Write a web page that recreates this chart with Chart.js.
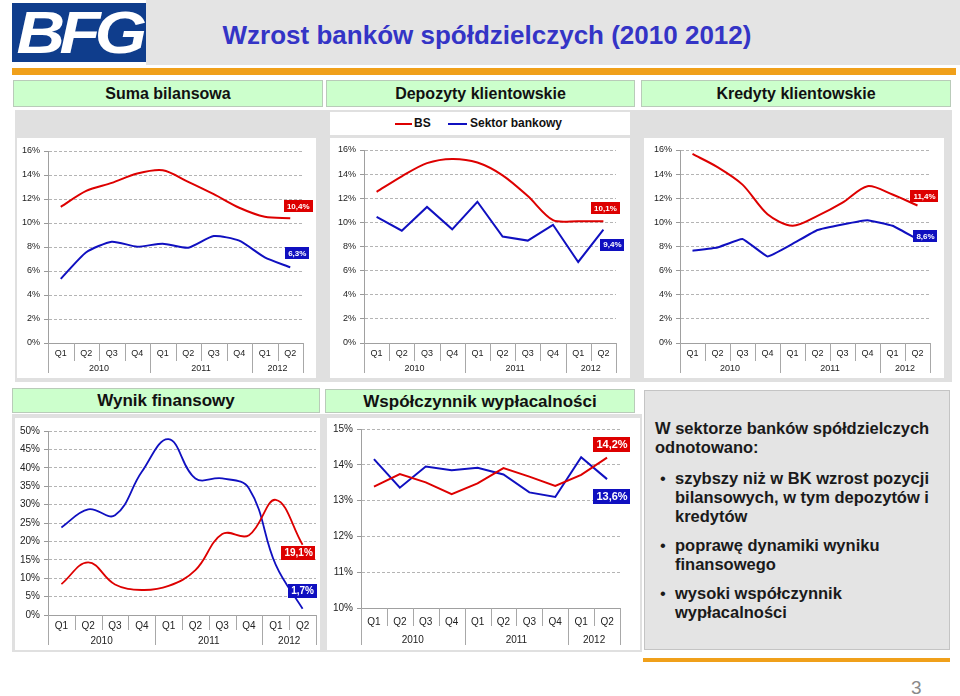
<!DOCTYPE html>
<html>
<head>
<meta charset="utf-8">
<script src="https://cdn.jsdelivr.net/npm/chart.js@4"></script>
<style>
  body { margin: 0; width: 960px; height: 696px; background: #fff; overflow: hidden; position: relative;
         font-family: Arial, "Liberation Sans", sans-serif; }
  .abs { position: absolute; }
  .green { background: #ccffcc; border: 1px solid #b9cbb9; box-sizing: border-box; font-weight: bold;
           font-size: 16px; color: #111; text-align: center; }
  canvas { position: absolute; background: #fff; }
  .note { font-weight: bold; font-size: 16.5px; color: #1a1a1a; line-height: 19px; }
  .note ul { margin: 12px 0 0 0; padding: 0 0 0 20px; list-style: none; }
  .note li { position: relative; margin-bottom: 10px; }
  .note li:before { content: "\2022"; position: absolute; left: -15px; font-weight: normal; }
</style>
</head>
<body>
<div class="abs" style="left:146px;top:0;width:814px;height:65px;background:#e4e4e4"></div>
<div class="abs" style="left:12px;top:3px;width:134px;height:59px;background:#0f3d8c;overflow:hidden">
  <div style="color:#fff;font-weight:bold;font-style:italic;font-size:60px;line-height:59px;text-align:center;letter-spacing:-5px;transform:scaleX(1.12)">BFG</div>
</div>
<div class="abs" style="left:146px;top:20px;width:682px;text-align:center;font-weight:bold;font-size:26px;color:#3434c6">Wzrost banków spółdzielczych (2010 2012)</div>
<div class="abs" style="left:12px;top:68px;width:944px;height:7px;background:#f0a01a"></div>

<div class="abs green" style="left:13px;top:80px;width:310px;height:27px;line-height:25px">Suma bilansowa</div>
<div class="abs green" style="left:326px;top:80px;width:309px;height:27px;line-height:25px">Depozyty klientowskie</div>
<div class="abs green" style="left:641px;top:80px;width:310px;height:27px;line-height:25px">Kredyty klientowskie</div>

<div class="abs" style="left:15px;top:110px;width:937px;height:272px;background:#e0e0e0"></div>
<div class="abs" style="left:330px;top:112px;width:300px;height:23px;background:#fff;font-size:12px;font-weight:bold;color:#111;line-height:23px">
  <span class="abs" style="left:65px;top:11px;width:17px;height:2px;background:#dd0000"></span>
  <span class="abs" style="left:84px;top:0">BS</span>
  <span class="abs" style="left:118px;top:11px;width:19px;height:2px;background:#1010c0"></span>
  <span class="abs" style="left:140px;top:0">Sektor bankowy</span>
</div>

<canvas id="c1" width="299" height="240" style="left:17px;top:138px"></canvas>
<canvas id="c2" width="300" height="240" style="left:330px;top:138px"></canvas>
<canvas id="c3" width="300" height="240" style="left:644px;top:138px"></canvas>

<div class="abs green" style="left:12px;top:388px;width:308px;height:25px;line-height:24px;font-size:17px">Wynik finansowy</div>
<div class="abs green" style="left:325px;top:389px;width:310px;height:24px;line-height:23px;font-size:17px">Współczynnik wypłacalności</div>
<div class="abs" style="left:12px;top:414px;width:630px;height:238px;background:#e0e0e0"></div>
<canvas id="c4" width="305" height="232" style="left:15px;top:418px"></canvas>
<canvas id="c5" width="313" height="232" style="left:327px;top:418px"></canvas>

<div class="abs note" style="left:644px;top:390px;width:306px;height:260px;background:#e4e4e4;border:1px solid #c4c4c4;box-sizing:border-box;padding:28px 6px 0 10px">
  W sektorze banków spółdzielczych odnotowano:
  <ul>
    <li>szybszy niż w BK wzrost pozycji bilansowych, w tym depozytów i kredytów</li>
    <li>poprawę dynamiki wyniku finansowego</li>
    <li>wysoki współczynnik wypłacalności</li>
  </ul>
</div>
<div class="abs" style="left:643px;top:658px;width:307px;height:4px;background:#f0a01a"></div>
<div class="abs" style="left:911px;top:677px;font-size:19px;color:#8a8a8a">3</div>

<script>
  const quarters = ['Q1', 'Q2', 'Q3', 'Q4', 'Q1', 'Q2', 'Q3', 'Q4', 'Q1', 'Q2'];
  const years = ['2010', '2011', '2012'];
  const yearSpans = [4, 4, 2];

  // values in %
  const sumaBS = [11.35, 12.68, 13.34, 14.12, 14.39, 13.43, 12.4, 11.27, 10.52, 10.4];
  const sumaSektor = [5.34, 7.56, 8.44, 8.03, 8.28, 7.94, 8.91, 8.53, 7.14, 6.3];
  const depoBS = [12.53, 13.82, 14.91, 15.26, 14.96, 13.9, 12.18, 10.18, 10.1, 10.1];
  const depoSektor = [10.46, 9.31, 11.28, 9.42, 11.71, 8.82, 8.49, 9.8, 6.72, 9.4];
  const kredBS = [15.67, 14.58, 13.13, 10.68, 9.72, 10.54, 11.63, 13.0, 12.31, 11.4];
  const kredSektor = [7.65, 7.92, 8.63, 7.18, 8.22, 9.37, 9.83, 10.18, 9.72, 8.6];
  const wynikBS = [8.4, 14.3, 8.3, 6.8, 7.9, 12.2, 22.0, 21.7, 31.3, 19.1];
  const wynikSektor = [23.8, 28.7, 27.1, 38.9, 47.8, 37.1, 37.1, 34.4, 13.6, 1.7];
  const wyplBS = [13.39, 13.74, 13.51, 13.18, 13.48, 13.91, 13.67, 13.41, 13.72, 14.2];
  const wyplSektor = [14.16, 13.36, 13.95, 13.85, 13.92, 13.73, 13.23, 13.1, 14.21, 13.6];

  const RED = '#dd0000';
  const BLUE = '#1010c0';

  Chart.defaults.font.family = 'Arial, "Liberation Sans", sans-serif';
  Chart.defaults.color = '#222';

  // quarter separators and year row under the x axis
  const yearAxis = {
    id: 'yearAxis',
    afterDraw(chart, args, opts) {
      const x = chart.scales.x;
      const ctx = chart.ctx;
      const bounds = [0];
      yearSpans.reduce((acc, n) => { bounds.push(acc + n); return acc + n; }, 0);
      ctx.save();
      ctx.strokeStyle = '#a8a8a8';
      ctx.lineWidth = 1;
      for (let i = 0; i <= quarters.length; i++) {
        const px = Math.round(x.getPixelForValue(i - 0.5)) + 0.5;
        const len = bounds.includes(i) ? opts.longLen : opts.shortLen;
        ctx.beginPath();
        ctx.moveTo(px, x.top);
        ctx.lineTo(px, x.top + len);
        ctx.stroke();
      }
      ctx.fillStyle = '#222';
      ctx.font = opts.fontSize + 'px ' + Chart.defaults.font.family;
      ctx.textAlign = 'center';
      ctx.textBaseline = 'middle';
      let start = 0;
      years.forEach((yr, k) => {
        const end = start + yearSpans[k];
        const cx = (x.getPixelForValue(start - 0.5) + x.getPixelForValue(end - 0.5)) / 2;
        ctx.fillText(yr, cx, x.top + opts.yearY);
        start = end;
      });
      ctx.restore();
    }
  };

  // value boxes next to the last point of each line
  const endLabels = {
    id: 'endLabels',
    afterDatasetsDraw(chart, args, opts) {
      const ctx = chart.ctx;
      ctx.save();
      ctx.font = 'bold ' + opts.fontSize + 'px ' + Chart.defaults.font.family;
      ctx.textAlign = 'center';
      ctx.textBaseline = 'middle';
      chart.data.datasets.forEach((ds, i) => {
        const meta = chart.getDatasetMeta(i);
        const last = meta.data[meta.data.length - 1];
        const off = opts.offsets[i];
        const text = ds.data[ds.data.length - 1].toFixed(1).replace('.', ',') + '%';
        const w = ctx.measureText(text).width + opts.padX * 2;
        const h = opts.fontSize + opts.padY * 2;
        const cx = last.x + off[0];
        const cy = last.y + off[1];
        ctx.fillStyle = ds.borderColor;
        ctx.fillRect(Math.round(cx - w / 2), Math.round(cy - h / 2), Math.round(w), h);
        ctx.fillStyle = '#fff';
        ctx.fillText(text, cx, cy + 0.5);
      });
      ctx.restore();
    }
  };

  function makeChart(id, bs, sektor, o) {
    return new Chart(document.getElementById(id), {
      type: 'line',
      data: {
        labels: quarters,
        datasets: [
          { label: 'BS', data: bs, borderColor: RED, borderWidth: o.lineWidth, tension: o.tensionBS, pointRadius: 0 },
          { label: 'Sektor bankowy', data: sektor, borderColor: BLUE, borderWidth: o.lineWidth, tension: o.tensionSektor, pointRadius: 0 }
        ]
      },
      options: {
        responsive: false,
        animation: false,
        devicePixelRatio: 1,
        layout: { padding: { top: o.padT, right: o.padR, left: 0, bottom: 0 } },
        plugins: {
          legend: { display: false },
          tooltip: { enabled: false },
          yearAxis: { shortLen: o.shortLen, longLen: o.longLen, yearY: o.yearY, fontSize: o.tickSize },
          endLabels: { offsets: o.offsets, fontSize: o.labelSize, padX: 3, padY: 2 }
        },
        scales: {
          x: {
            offset: true,
            grid: { display: false, drawTicks: false },
            border: { color: '#a0a0a0' },
            ticks: { autoSkip: false, maxRotation: 0, padding: o.xPad, font: { size: o.tickSize } },
            afterFit: s => { s.height = o.xH; }
          },
          y: {
            min: o.min, max: o.max,
            ticks: { stepSize: o.step, padding: 4, font: { size: o.tickSize }, callback: v => v + '%' },
            grid: { color: '#b4b4b4', tickLength: 4, tickColor: '#999' },
            border: { color: '#a0a0a0', dash: [3, 2] },
            afterFit: s => { s.width = o.yW; }
          }
        }
      },
      plugins: [yearAxis, endLabels]
    });
  }

  const topOpts = { min: 0, max: 16, step: 2, lineWidth: 2, tickSize: 9, labelSize: 8, xH: 35, xPad: 5,
                    shortLen: 18, longLen: 30, yearY: 26, padT: 13 };

  makeChart('c1', sumaBS, sumaSektor, Object.assign({}, topOpts,
    { yW: 31, padR: 13, tensionBS: 0.3, tensionSektor: 0.2, offsets: [[8, -12], [7, -14]] }));
  makeChart('c2', depoBS, depoSektor, Object.assign({}, topOpts,
    { yW: 34, padR: 14, padT: 12, tensionBS: 0.3, tensionSektor: 0, offsets: [[2, -13], [9, 15]] }));
  makeChart('c3', kredBS, kredSektor, Object.assign({}, topOpts,
    { yW: 36, padR: 14, padT: 12, tensionBS: 0.3, tensionSektor: 0.1, offsets: [[7, -9], [8, -3]] }));
  makeChart('c4', wynikBS, wynikSektor, { min: 0, max: 50, step: 5, lineWidth: 1.8, tickSize: 10, labelSize: 10,
    xH: 35, xPad: 5, shortLen: 15, longLen: 30, yearY: 26, padT: 13, yW: 33, padR: 4,
    tensionBS: 0.4, tensionSektor: 0.4, offsets: [[-4, 8], [0, -18]] });
  makeChart('c5', wyplBS, wyplSektor, { min: 10, max: 15, step: 1, lineWidth: 2, tickSize: 10, labelSize: 11,
    xH: 42, xPad: 8, shortLen: 18, longLen: 37, yearY: 32, padT: 11, yW: 34, padR: 20,
    tensionBS: 0, tensionSektor: 0, offsets: [[5, -13], [5, 17]] });
</script>
</body>
</html>
